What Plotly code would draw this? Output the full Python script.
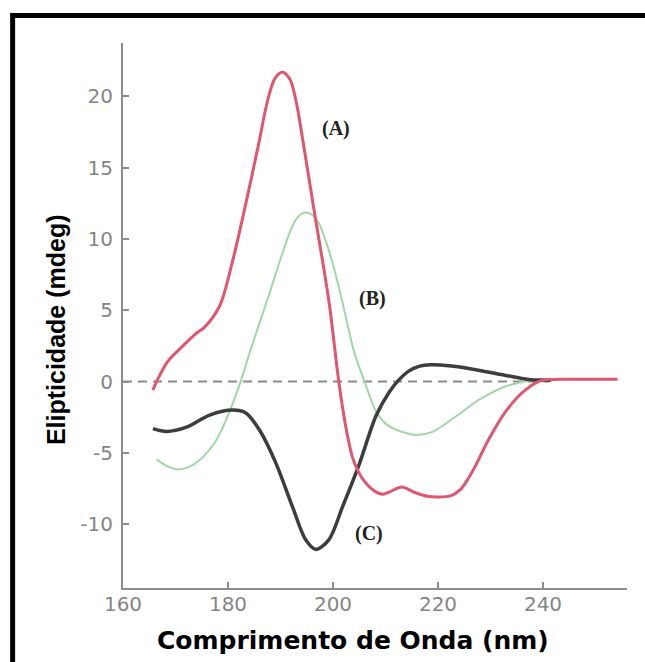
import plotly.graph_objects as go

# ---- data ----
wl_a = [165.7, 166.4, 168.5, 171.4, 174.0, 175.5, 178.4, 180.9, 183.4, 185.8, 187.6, 189.0,
        190.4, 191.8, 193.0, 194.4, 196.4, 199.2, 201.1, 202.4, 203.7, 204.8, 206.2, 208.0,
        209.5, 211.0, 213.1, 215.7, 218.0, 220.1, 222.5, 224.2, 225.6, 227.0, 229.6, 232.7,
        235.9, 239.1, 241.6, 245.4, 254.2]
ell_a = [-0.6, 0.0, 1.4, 2.5, 3.4, 3.8, 5.3, 8.5, 12.5, 16.6, 19.8, 21.3,
         21.7, 21.2, 19.6, 16.6, 12.0, 5.7, 0.0, -3.1, -5.3, -6.3, -7.1, -7.7,
         -7.9, -7.7, -7.4, -7.8, -8.05, -8.1, -8.0, -7.6, -6.9, -6.0, -4.1, -2.2,
         -0.83, 0.0, 0.15, 0.17, 0.17]

wl_b = [166.4, 168.5, 170.5, 172.5, 174.6, 177.8, 180.3, 182.4, 184.2, 186.0, 188.0, 190.0,
        191.7, 193.0, 194.5, 196.0, 197.3, 199.2, 201.0, 202.4, 204.0, 206.0, 208.2, 210.0,
        211.9, 213.8, 215.7, 218.8, 223.2, 227.7, 232.7, 236.5, 240.3, 241.5]
ell_b = [-5.46, -5.95, -6.16, -6.0, -5.5, -4.1, -2.1, 0.0, 2.1, 4.1, 6.3, 8.6,
         10.4, 11.4, 11.84, 11.7, 11.1, 9.2, 6.8, 4.6, 2.1, 0.0, -2.1, -2.95,
         -3.35, -3.6, -3.75, -3.55, -2.5, -1.3, -0.36, 0.0, 0.15, 0.15]

wl_c = [165.7, 168.3, 172.1, 176.5, 180.9, 183.4, 186.0, 189.1, 192.3, 194.8, 196.7, 199.2,
        201.8, 204.9, 208.2, 210.6, 212.5, 214.5, 216.5, 218.5, 222.6, 227.7, 232.7, 237.2,
        240.3, 241.5]
ell_c = [-3.3, -3.5, -3.2, -2.35, -2.0, -2.2, -3.4, -5.7, -8.8, -11.1, -11.77, -11.1,
         -8.8, -5.9, -2.4, -0.8, 0.1, 0.75, 1.08, 1.18, 1.09, 0.8, 0.45, 0.15,
         0.1, 0.1]

zero_x = [160, 241]
zero_y = [0, 0]

x_ticks = [160, 180, 200, 220, 240]
y_ticks = [-10, -5, 0, 5, 10, 15, 20]
y_tick_text = ["-10", "-5", "0", "5", "10", "15", "20"]

labels = ["(A)", "(B)", "(C)"]
label_x = [200.5, 207.5, 206.8]
label_y = [17.75, 5.8, -10.65]

# ---- figure ----
fig = go.Figure()
fig.add_trace(go.Scatter(x=zero_x, y=zero_y, mode="lines",
                         line=dict(color="#8a8a8a", width=2, dash="9px,6px"),
                         hoverinfo="skip"))
fig.add_trace(go.Scatter(x=wl_b, y=ell_b, mode="lines",
                         line=dict(color="#9fd8a6", width=2, shape="spline", smoothing=0.9)))
fig.add_trace(go.Scatter(x=wl_c, y=ell_c, mode="lines",
                         line=dict(color="#3d3d3d", width=3.5, shape="spline", smoothing=0.9)))
fig.add_trace(go.Scatter(x=wl_a, y=ell_a, mode="lines",
                         line=dict(color="#e05570", width=3, shape="spline", smoothing=0.9)))

for t, lx, ly in zip(labels, label_x, label_y):
    fig.add_annotation(x=lx, y=ly, text=t, showarrow=False,
                       font=dict(family="Liberation Serif", size=20, color="#222222", weight="bold"))

tickfont = dict(family="DejaVu Sans", size=20, color="#858585")
fig.update_xaxes(range=[160, 256], tickvals=x_ticks, showgrid=False, zeroline=False,
                 showline=True, linecolor="#8c8c8c", linewidth=2,
                 ticks="inside", ticklen=6, tickwidth=2, tickcolor="#8c8c8c",
                 tickfont=tickfont, ticklabelstandoff=-3)
fig.update_yaxes(range=[-14.48, 23.75], tickvals=y_ticks, ticktext=y_tick_text,
                 showgrid=False, zeroline=False,
                 showline=True, linecolor="#8c8c8c", linewidth=2,
                 ticks="inside", ticklen=6, tickwidth=2, tickcolor="#8c8c8c",
                 tickfont=tickfont, ticklabelstandoff=4)

# axis titles
fig.add_annotation(xref="paper", yref="paper", x=0.456, y=-0.097, text="Comprimento de Onda (nm)",
                   showarrow=False, xanchor="center", yanchor="middle",
                   font=dict(family="DejaVu Sans", size=25, color="#000000", weight="bold"))
fig.add_annotation(xref="paper", yref="paper", x=-0.133, y=0.475, text="Elipticidade (mdeg)",
                   showarrow=False, xanchor="center", yanchor="middle", textangle=-90,
                   font=dict(family="Liberation Sans", size=25, color="#000000", weight="bold"))

# black frame (top and left edges of the picture)
fig.add_shape(type="path", xref="paper", yref="paper",
              path="M -0.219,-0.2 L -0.219,1.0505 L 1.1,1.0505",
              line=dict(color="#000000", width=5))

fig.update_layout(width=645, height=662, margin=dict(l=123, r=18, t=43, b=74),
                  plot_bgcolor="white", paper_bgcolor="white", showlegend=False)

fig.write_html("out.html")
